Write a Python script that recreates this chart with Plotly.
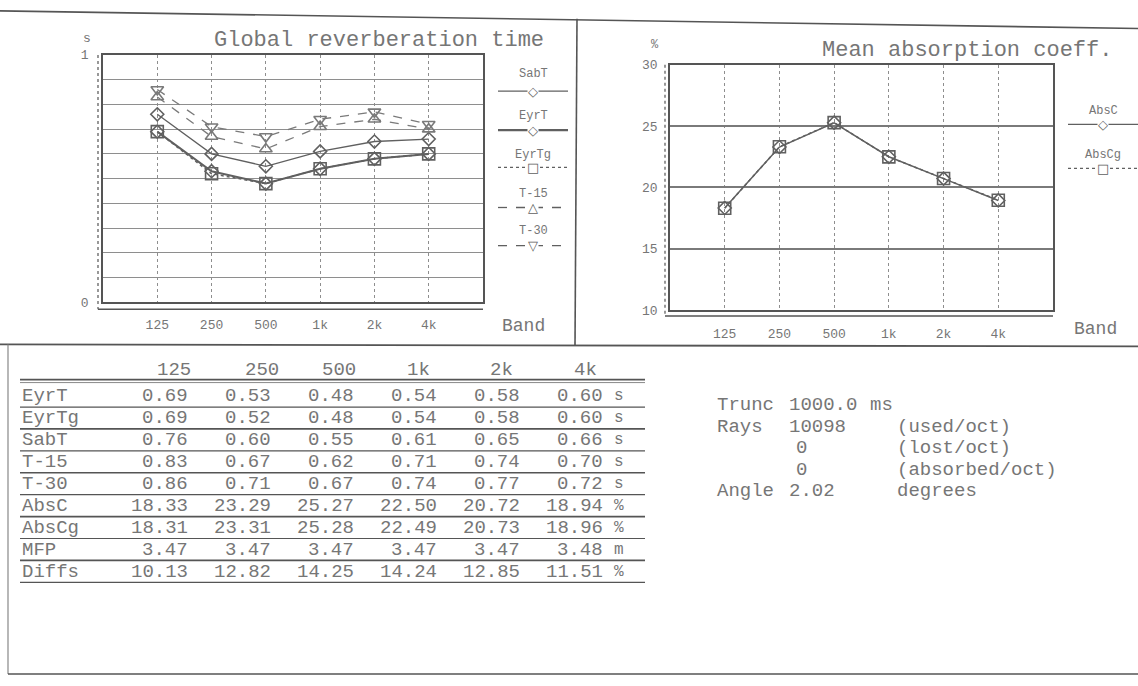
import plotly.graph_objects as go

# ---------------- data ----------------
bands = ["125", "250", "500", "1k", "2k", "4k"]
eyrt = [0.69, 0.53, 0.48, 0.54, 0.58, 0.60]
eyrtg = [0.69, 0.52, 0.48, 0.54, 0.58, 0.60]
sabt = [0.76, 0.60, 0.55, 0.61, 0.65, 0.66]
t15 = [0.83, 0.67, 0.62, 0.71, 0.74, 0.70]
t30 = [0.86, 0.71, 0.67, 0.74, 0.77, 0.72]
absc = [18.33, 23.29, 25.27, 22.50, 20.72, 18.94]
abscg = [18.31, 23.31, 25.28, 22.49, 20.73, 18.96]
mfp = [3.47, 3.47, 3.47, 3.47, 3.47, 3.48]
diffs = [10.13, 12.82, 14.25, 14.24, 12.85, 11.51]

row_names = ["EyrT", "EyrTg", "SabT", "T-15", "T-30", "AbsC", "AbsCg", "MFP", "Diffs"]
row_units = ["s", "s", "s", "s", "s", "%", "%", "m", "%"]
row_values = [eyrt, eyrtg, sabt, t15, t30, absc, abscg, mfp, diffs]

left_ticks = [i / 10 for i in range(11)]
left_ticktext = ["0"] + [""] * 9 + ["1"]
right_ticks = [10, 15, 20, 25, 30]

info_rows = [
    ("Trunc", "1000.0", "ms"),
    ("Rays", "10098", "(used/oct)"),
    ("", "0", "(lost/oct)"),
    ("", "0", "(absorbed/oct)"),
    ("Angle", "2.02", "degrees"),
]

# ---------------- helpers ----------------
W, H = 1138, 686
def px(x):
    return x / W
def py(y):
    return 1 - y / H

MONO = "Liberation Mono, DejaVu Sans Mono, monospace"
TXT = "#767676"
LINE = "#555555"
GRID = "#8e8e8e"
SER = "#606060"
SER2 = "#7a7a7a"

fig = go.Figure()

left_series = [
    ("SabT", sabt, dict(dash="solid", width=1.3, color=SER), "diamond-open", 10),
    ("EyrT", eyrt, dict(dash="solid", width=2.0, color=SER), "diamond-open", 10),
    ("EyrTg", eyrtg, dict(dash="dot", width=1.5, color=SER), "square-open", 12),
    ("T-15", t15, dict(dash="dash", width=1.3, color=SER2), "triangle-up-open", 11),
    ("T-30", t30, dict(dash="dash", width=1.3, color=SER2), "triangle-down-open", 11),
]
for name, vals, ln, sym, sz in left_series:
    fig.add_trace(go.Scatter(
        x=bands, y=vals, name=name, mode="lines+markers", line=ln,
        marker=dict(symbol=sym, size=sz, color=ln["color"], line=dict(width=1.6, color=ln["color"])),
        xaxis="x", yaxis="y", showlegend=False))

right_series = [
    ("AbsC", absc, dict(dash="solid", width=1.5, color=SER), "diamond-open", 10),
    ("AbsCg", abscg, dict(dash="dot", width=1.5, color=SER), "square-open", 12),
]
for name, vals, ln, sym, sz in right_series:
    fig.add_trace(go.Scatter(
        x=bands, y=vals, name=name, mode="lines+markers", line=ln,
        marker=dict(symbol=sym, size=sz, color=ln["color"], line=dict(width=1.6, color=ln["color"])),
        xaxis="x2", yaxis="y2", showlegend=False))

axis_common = dict(showline=True, mirror=True, linecolor=LINE, linewidth=1.5,
                   zeroline=False, ticks="", tickfont=dict(family=MONO, size=13, color=TXT))

fig.update_layout(
    width=W, height=H, margin=dict(l=0, r=0, t=0, b=0),
    paper_bgcolor="white", plot_bgcolor="white", showlegend=False,
    xaxis=dict(domain=[px(103), px(483)], type="category", range=[-1, 6], anchor="y",
               showgrid=True, gridcolor=GRID, griddash="dot", gridwidth=1.2,
               ticklabelstandoff=9, **axis_common),
    yaxis=dict(domain=[py(303), py(50)], range=[0, 1], anchor="x",
               tickvals=left_ticks, ticktext=left_ticktext,
               showgrid=True, gridcolor=GRID, gridwidth=1.2,
               ticklabelstandoff=10, **axis_common),
    xaxis2=dict(domain=[px(670), px(1053)], type="category", range=[-1, 6], anchor="y2",
                showgrid=True, gridcolor=GRID, griddash="dot", gridwidth=1.2,
                ticklabelstandoff=10, **axis_common),
    yaxis2=dict(domain=[py(311), py(60)], range=[10, 30], anchor="x2",
                tickvals=right_ticks, showgrid=True, gridcolor="#7a7a7a", gridwidth=1.5,
                ticklabelstandoff=8, **axis_common),
)

shapes = []
def hline(x0, x1, y0, y1=None, w=1.5, color=LINE, dash="solid"):
    shapes.append(dict(type="line", xref="paper", yref="paper",
                       x0=px(x0), x1=px(x1), y0=py(y0), y1=py(y0 if y1 is None else y1),
                       line=dict(color=color, width=w, dash=dash)))

# page frame
hline(0, 1138, 5, 23, w=1.6)
shapes.append(dict(type="line", xref="paper", yref="paper", x0=px(577), x1=px(575),
                   y0=py(13), y1=py(347), line=dict(color=LINE, width=1.6)))
hline(0, 1138, 346, 348, w=1.8)
shapes.append(dict(type="line", xref="paper", yref="paper", x0=px(8), x1=px(8),
                   y0=py(346), y1=py(683), line=dict(color="#888", width=1.2)))
hline(8, 1138, 683, w=1.6)

# double axis lines
shapes.append(dict(type="line", xref="paper", yref="paper", x0=px(98), x1=px(98),
                   y0=py(50), y1=py(310), line=dict(color=LINE, width=1.2, dash="dot")))
hline(98, 483, 310, w=1.6)
shapes.append(dict(type="line", xref="paper", yref="paper", x0=px(665), x1=px(665),
                   y0=py(60), y1=py(317), line=dict(color=LINE, width=1.2, dash="dot")))
hline(665, 1053, 317, w=1.6)

annotations = []
def text(x, y, s, size=20, anchor="center", color=TXT, family=MONO):
    annotations.append(dict(xref="paper", yref="paper", x=px(x), y=py(y), text=s,
                            showarrow=False, xanchor=anchor, yanchor="middle",
                            font=dict(family=family, size=size, color=color)))

# chart titles, units
text(379, 35, "Global reverberation time", size=22)
text(967, 45, "Mean absorption coeff.", size=22)
text(87, 33, "s", size=13)
text(655, 40, "%", size=12)
text(523, 327, "Band", size=18)
text(1095, 330, "Band", size=18)

# legends (drawn samples)
GLYPH = "DejaVu Sans, sans-serif"
left_leg = [
    ("SabT", 70, 87, "solid", 1.3, "\u25C7"),
    ("EyrT", 112, 127, "solid", 2.2, "\u25C7"),
    ("EyrTg", 152, 165, "dot", 1.4, "\u25A1"),
    ("T-15", 192, 206, "dash", 1.3, "\u25B3"),
    ("T-30", 230, 245, "dash", 1.3, "\u25BD"),
]
for name, ty, ly, dash, w, g in left_leg:
    text(533, ty, name, size=12)
    hline(498, 568, ly, w=w, color=SER, dash=dash)
    annotations.append(dict(xref="paper", yref="paper", x=px(533), y=py(ly), text=g,
                            showarrow=False, xanchor="center", yanchor="middle", bgcolor="white",
                            borderpad=0, font=dict(family=GLYPH, size=13, color=SER)))
right_leg = [
    ("AbsC", 107, 121, "solid", 1.3, "\u25C7"),
    ("AbsCg", 152, 166, "dot", 1.4, "\u25A1"),
]
for name, ty, ly, dash, w, g in right_leg:
    text(1103, ty, name, size=12)
    hline(1068, 1138, ly, w=w, color=SER, dash=dash)
    annotations.append(dict(xref="paper", yref="paper", x=px(1103), y=py(ly), text=g,
                            showarrow=False, xanchor="center", yanchor="middle", bgcolor="white",
                            borderpad=0, font=dict(family=GLYPH, size=13, color=SER)))

# ---------------- table ----------------
col_right = [190, 273, 356, 439, 522, 605]
head_x = [174, 262, 339, 418, 501, 585]
for hx, b in zip(head_x, bands):
    text(hx, 372, b, size=19)
hline(20, 645, 382, w=1.6)
hline(20, 645, 385, w=1.0, color="#888")
row_y0, row_dy = 399, 22.4
for k, (nm, unit, vals) in enumerate(zip(row_names, row_units, row_values)):
    yy = row_y0 + k * row_dy
    text(20, yy, nm, size=19, anchor="left")
    for cx, v in zip(col_right, vals):
        text(cx, yy, f"{v:.2f}", size=19, anchor="right")
    text(619, yy, unit, size=16)
    hline(20, 645, yy + 11, w=1.7 if k % 2 else 1.2)

# info block
info_y = [408, 430, 452, 474, 496]
for (a, b, c), yy in zip(info_rows, info_y):
    if a:
        text(715, yy, a, size=19, anchor="left")
    if b in ("0",):
        text(801, yy, b, size=19)
    else:
        text(787, yy, b, size=19, anchor="left")
    text(868 if c == "ms" else 895, yy, c, size=19, anchor="left")

fig.update_layout(shapes=shapes, annotations=annotations)
fig.write_html("out.html")
